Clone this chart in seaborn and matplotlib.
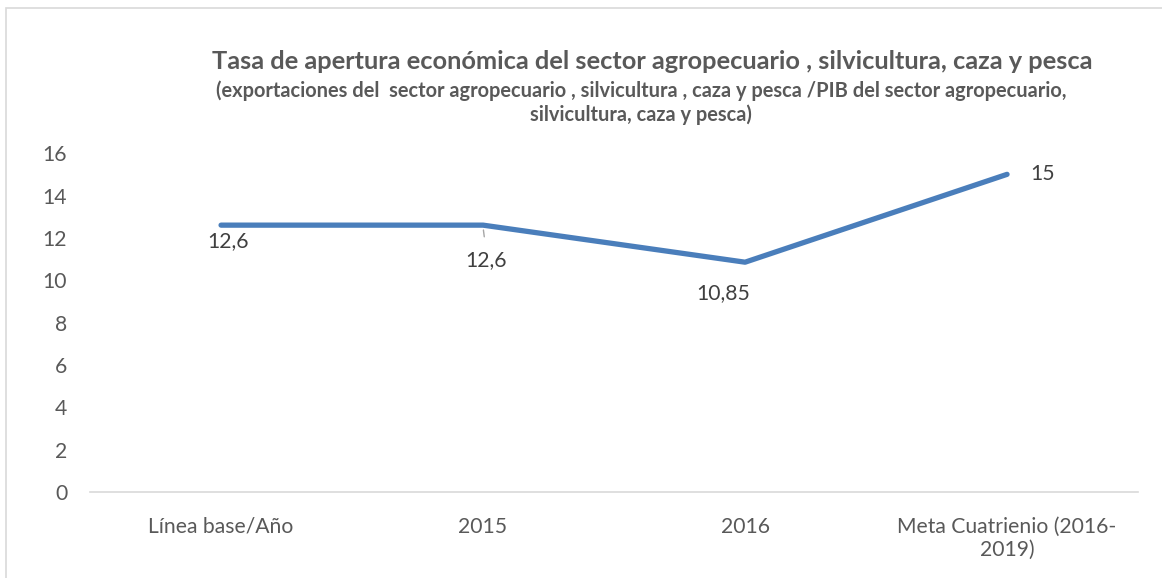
import matplotlib
matplotlib.use("Agg")
import matplotlib.pyplot as plt
import seaborn as sns
import pandas as pd

categorias = ["Línea base/Año", "2015", "2016", "Meta Cuatrienio (2016-\n2019)"]
valores = [12.6, 12.6, 10.85, 15]
etiquetas = ["12,6", "12,6", "10,85", "15"]

titulo = "Tasa de apertura económica del sector agropecuario , silvicultura, caza y pesca"
subtitulo = ("(exportaciones del  sector agropecuario , silvicultura , caza y pesca /PIB del sector agropecuario,\n"
             "silvicultura, caza y pesca)")

sns.set_style("white")
plt.rcParams['font.family'] = ['Lato', 'DejaVu Sans']

df = pd.DataFrame({"cat": categorias, "val": valores})

fig = plt.figure(figsize=(11.62, 5.78), dpi=100)
ax = fig.add_axes([0.0775, 0.149, 0.9019, 0.586])
sns.lineplot(data=df, x="cat", y="val", sort=False, color="#4a7ebb", linewidth=3.8,
             solid_capstyle="round", ax=ax)

ax.set_ylim(0, 16)
ax.set_yticks(range(0, 17, 2))
ax.set_xlim(-0.5, 3.5)
ax.set_xlabel("")
ax.set_ylabel("")
for s in ["top", "right", "left"]:
    ax.spines[s].set_visible(False)
ax.spines["bottom"].set_color("#d9d9d9")
ax.spines["bottom"].set_linewidth(1.2)
ax.tick_params(axis="both", length=0, labelsize=15.2, labelcolor="#595959")
ax.tick_params(axis="y", pad=16.5)
ax.tick_params(axis="x", pad=18)
for t in ax.get_yticklabels():
    t.set_horizontalalignment("right")
for t in ax.get_xticklabels():
    t.set_multialignment("center")

# etiquetas de datos
offsets = [(5, -11.5, "center"), (2, -25, "center"), (-16, -22, "center"), (17, 0, "left")]
for i, (v, lab) in enumerate(zip(valores, etiquetas)):
    dx, dy, ha = offsets[i]
    ax.annotate(lab, (i, v), xytext=(dx, dy), textcoords="offset points",
                ha=ha, va="center", fontsize=15.2, color="#404040")
# línea guía de la etiqueta 2015
ax.annotate("", (1, valores[1] - 0.1), xytext=(1.006, valores[1] - 0.68),
            arrowprops=dict(arrowstyle="-", color="#a6a6a6", lw=1))

fig.text(0.561, 0.893, titulo, ha="center", va="center", fontsize=18.3,
         fontweight="bold", color="#595959")
fig.text(0.552, 0.822, subtitulo, ha="center", va="center", fontsize=14.4,
         fontweight="bold", color="#595959", linespacing=1.2)

# borde del gráfico
fig.patches.append(plt.Rectangle((0.005, -0.01), 1.1, 0.996, transform=fig.transFigure,
                                 fill=False, edgecolor="#d9d9d9", linewidth=1.2))

fig.savefig("out.png", dpi=100)
